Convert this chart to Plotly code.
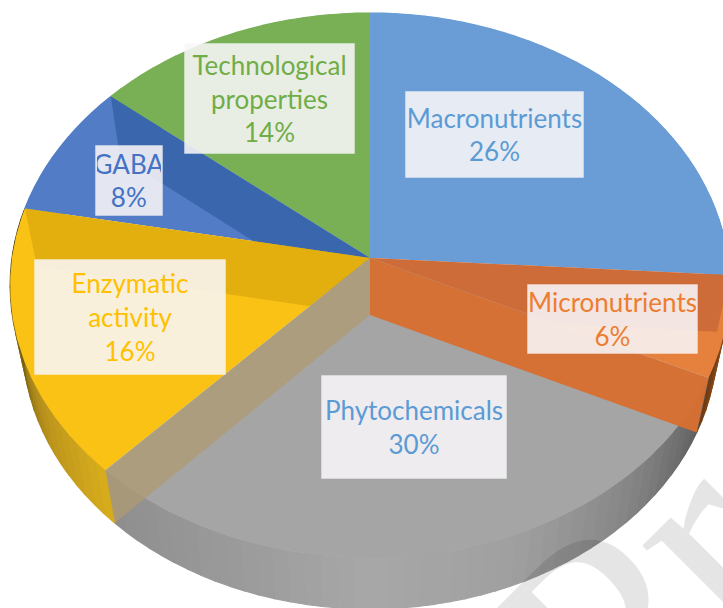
import numpy as np
import plotly.graph_objects as go

# Data
categories = ["Macronutrients", "Micronutrients", "Phytochemicals", "Enzymatic activity", "GABA", "Technological properties"]
values = [26, 6, 30, 16, 8, 14]
label_lines = ["Macronutrients<br>26%", "Micronutrients<br>6%", "Phytochemicals<br>30%",
               "Enzymatic<br>activity<br>16%", "GABA<br>8%", "Technological<br>properties<br>14%"]

# Styles
top_colors = ["#6A9CD6", "#E5813D", "#A5A5A5", "#FBC216", "#527DC6", "#79B056"]
text_colors = ["#5B9BD5", "#ED7D31", "#5B9BD5", "#FFC000", "#4472C4", "#70AD47"]
spoke_wall = ["rgba(190,95,55,0.62)", "rgba(215,112,50,0.97)", "rgba(175,155,115,0.75)",
              "rgba(205,160,10,0.55)", "rgba(55,100,170,0.9)", "rgba(0,0,0,0)"]
side_stops = [
    ["#6A9CD6", "#6A9CD6"],
    ["#B36A2C", "#6E3A12"],
    ["#5E5E5E", "#858585", "#A0A0A0", "#A8A8A8", "#9A9A9A", "#8E8E8E"],
    ["#D9AE1C", "#B8921C", "#6F5A14", "#3A2F0C"],
    ["#527DC6", "#527DC6"],
    ["#79B056", "#79B056"],
]
label_boxes = [(406, 92, 177, 85), (528, 285, 169, 68), (322, 376, 184, 102),
               (35, 260, 190, 114), (96, 146, 66, 69), (185, 44, 169, 109)]
# painting order: slice index for a top surface, ("w", i) for the cut face after slice i
paint_order = [5, 0, 1, ("w", 0), 4, ("w", 4), 3, ("w", 3), 2, ("w", 1), ("w", 2)]

# Perspective of the pie disc
CX, CY, D, A, C = 370, 258, 358, -269.7, 0.1009
DEPTH, SX, SY = 57, 0.965, 0.98


def disc(theta, bottom=False):
    X, Y = np.sin(theta), np.cos(theta)
    w = 1 + C * Y
    px, py = D * X / w, A * Y / w
    if bottom:
        return CX + SX * px, CY + DEPTH + SY * py
    return CX + px, CY + py


def hex_rgb(h):
    return np.array([int(h[i:i + 2], 16) for i in (1, 3, 5)], float)


def mix(stops, t):
    p = t * (len(stops) - 1)
    i = min(int(p), len(stops) - 2)
    c = hex_rgb(stops[i]) * (1 - (p - i)) + hex_rgb(stops[i + 1]) * (p - i)
    return "rgb(%d,%d,%d)" % tuple(c)


fractions = np.array(values, float) / sum(values)
edges = np.concatenate([[0], np.cumsum(fractions)]) * 2 * np.pi

fig = go.Figure()


def poly(xs, ys, fill, name, line=None):
    fig.add_trace(go.Scatter(x=list(xs), y=list(ys), mode="lines", fill="toself", fillcolor=fill,
                             line=dict(color=line or "rgba(0,0,0,0)", width=1.2 if line else 0),
                             name=name, hoverinfo="name", showlegend=False))


# Side wall of the disc
for i, name in enumerate(categories):
    n = max(4, int(values[i] * 1.5))
    th = np.linspace(edges[i], edges[i + 1], n + 1)
    for k in range(n):
        t = np.linspace(th[k], th[k + 1], 5)
        tx, ty = disc(t)
        bx, by = disc(t[::-1], True)
        col = mix(side_stops[i], (k + 0.5) / n)
        poly(np.r_[tx, bx, tx[0]], np.r_[ty, by, ty[0]], col, name, col)

# Top surfaces and the cut faces seen through them
for item in paint_order:
    if isinstance(item, tuple):
        i = item[1]
        tx, ty = disc(edges[i + 1])
        bx, by = disc(edges[i + 1], True)
        poly([CX, tx, bx, CX, CX], [CY, ty, by, CY + DEPTH, CY], spoke_wall[i], categories[i])
    else:
        t = np.linspace(edges[item], edges[item + 1], 120)
        ex, ey = disc(t)
        poly(np.r_[CX, ex, CX], np.r_[CY, ey, CY], top_colors[item], categories[item])

anns = []
for txt, col, (x, y, w, h) in zip(label_lines, text_colors, label_boxes):
    anns.append(dict(x=x + w / 2, y=y + h / 2, xref="x", yref="y", text=txt, showarrow=False,
                     width=w - 2, height=h - 2, align="center", valign="middle",
                     bgcolor="rgba(248,246,248,0.88)", bordercolor="rgba(255,255,255,0.3)", borderwidth=1,
                     font=dict(family="Lato, Open Sans, sans-serif", size=26, color=col)))

# Watermark running off the corner
anns.append(dict(x=640, y=600, xref="x", yref="y", text="Pr", showarrow=False, textangle=-45,
                 font=dict(family="Liberation Serif, serif", size=300, color="rgba(0,0,0,0.10)")))

fig.update_layout(width=723, height=608, autosize=False, margin=dict(l=0, r=0, t=0, b=0),
                  paper_bgcolor="white", plot_bgcolor="white", annotations=anns, showlegend=False,
                  xaxis=dict(range=[0, 723], visible=False, fixedrange=True),
                  yaxis=dict(range=[608, 0], visible=False, fixedrange=True))
fig.write_html("out.html", config={"displayModeBar": False},
               post_script="document.body.style.margin='0';")
